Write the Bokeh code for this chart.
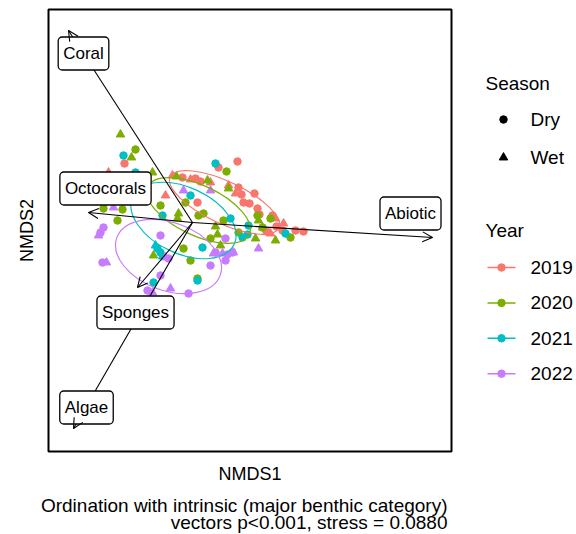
import numpy as np
from bokeh.plotting import figure
from bokeh.models import Range1d, ColumnDataSource, Arrow, OpenHead, FixedTicker
from bokeh.layouts import row, column
from bokeh.embed import file_html
from bokeh.resources import INLINE
from bokeh.core.properties import value

FONT = "Liberation Sans"

# ---------------- data ----------------
years = ["2019", "2020", "2021", "2022"]
year_colors = ["#F8766D", "#7CAE00", "#00BFC4", "#C77CFF"]
seasons = ["Dry", "Wet"]
season_markers = ["circle", "triangle"]

x_2019 = [-0.68, 0.45, 0.26, 0.46, 0.49, 0.62, 0.51, 0.57, 0.65, 0.67, 0.80, 0.90, 1.03, 1.11,
          0.05, 0.03, 0.08, -0.10, 0.74, 0.84,
          -0.84, -0.27, -0.20, -0.02, 0.18, 0.36, 0.83, 0.70, 0.91, 0.78, 0.43]
y_2019 = [0.59, 0.61, 0.55, 0.35, 0.28, 0.29, 0.20, 0.19, 0.14, 0.08, 0.07, -0.08, -0.08, -0.09,
          0.20, 0.44, 0.41, 0.45, -0.09, -0.04,
          0.50, 0.27, 0.47, 0.43, 0.40, 0.37, 0.04, -0.05, -0.01, -0.11, 0.29]
s_2019 = ["Dry"] * 20 + ["Wet"] * 11

x_2020 = [-0.57, -0.89, -0.70, -0.75, -0.07, 0.06, 0.11, 0.31, 0.34, 0.46, 0.65, 0.70, 0.78, 0.98,
          0.18, -0.09, -0.02, 0.05, -0.32,
          -0.72, -0.61, -0.40, -0.16, 0.15, 0.36, -0.14, -0.15, 0.23, 0.25, 0.28, -0.39, 0.66, 0.63, 0.83]
y_2020 = [0.73, 0.14, 0.13, 0.02, 0.20, 0.07, 0.09, 0.02, 0.51, -0.10, 0.07, -0.05, 0.04, -0.15,
          -0.16, -0.26, -0.38, -0.56, 0.17,
          0.88, 0.65, 0.50, 0.46, 0.42, 0.34, 0.09, 0.04, -0.04, -0.12, -0.23, -0.33, 0.02, -0.16, -0.18]
s_2020 = ["Dry"] * 19 + ["Wet"] * 15

x_2021 = [-0.69, -0.57, 0.23, -0.02, -0.30, 0.38, 0.56, 0.50, 0.55, 0.93, 0.10, -0.35, -0.32,
          -0.39, 0.05,
          -0.30, -0.37]
y_2021 = [0.67, 0.50, 0.59, 0.27, 0.07, 0.04, -0.03, -0.15, -0.12, -0.11, -0.25, -0.26, -0.30,
          -0.60, -0.58,
          -0.34, -0.23]
s_2021 = ["Dry"] * 15 + ["Wet"] * 2

x_2022 = [-0.89, -0.32, 0.33, 0.23, 0.35, 0.33, 0.18, -0.24, -0.32, -0.45, -0.04, 0.40, -0.92, -0.90,
          -0.79, -0.94, -0.09, 0.18, -0.86, 0.21, 0.30, 0.41, 0.66, -0.22, -0.27, -0.40]
y_2022 = [-0.05, -0.13, -0.16, -0.30, -0.32, -0.38, -0.43, -0.36, -0.53, -0.68, -0.71, -0.30, -0.10, -0.40,
          0.15, -0.13, 0.32, 0.32, -0.40, -0.31, -0.31, -0.30, -0.26, -0.66, -0.35, -0.70]
s_2022 = ["Dry"] * 14 + ["Wet"] * 12

# 95% ellipses per year (centre, full axes, rotation in radians)
ell_x = [0.32, 0.06, -0.09, -0.24]
ell_y = [0.20, 0.12, 0.02, -0.34]
ell_w = [1.20, 1.12, 1.12, 1.10]
ell_h = [0.42, 0.50, 0.66, 0.68]
ell_angle = [-0.44, -0.44, -0.44, -0.35]

# fitted vectors (arrow tips) and their label positions
vec_names = ["Abiotic", "Coral", "Octocorals", "Sponges", "Algae"]
vec_x = [2.40, -1.24, -1.04, -0.55, -1.19]
vec_y = [-0.15, 1.92, 0.10, -0.65, -2.06]
lab_x = [2.18, -1.09, -0.87, -0.57, -1.06]
lab_y = [0.09, 1.69, 0.34, -0.90, -1.85]

caption_lines = ["Ordination with intrinsic (major benthic category)",
                 "vectors p<0.001, stress = 0.0880"]

# ---------------- main panel ----------------
p = figure(frame_width=403, frame_height=442,
           min_border_left=48, min_border_right=10, min_border_top=9, min_border_bottom=34,
           x_range=Range1d(-1.44, 2.59), y_range=Range1d(-2.29, 2.13),
           output_backend="svg", toolbar_location=None,
           background_fill_color="white", border_fill_color="white",
           outline_line_color="black", outline_line_width=2)
p.grid.visible = False

for xs, ys, ss, col in zip([x_2019, x_2020, x_2021, x_2022],
                           [y_2019, y_2020, y_2021, y_2022],
                           [s_2019, s_2020, s_2021, s_2022], year_colors):
    xs = np.array(xs); ys = np.array(ys); ss = np.array(ss)
    for season, marker, size in zip(seasons, season_markers, [7.5, 8.5]):
        m = ss == season
        p.scatter(xs[m], ys[m], marker=marker, size=size, fill_color=col, line_color=col)

p.ellipse(x=ell_x, y=ell_y, width=ell_w, height=ell_h, angle=ell_angle,
          fill_color=None, line_color=year_colors, line_width=1.2)

vec_src = ColumnDataSource(dict(x1=vec_x, y1=vec_y, lx=lab_x, ly=lab_y, name=vec_names))
p.segment(x0=0, y0=0, x1="x1", y1="y1", source=vec_src, line_color="black", line_width=1.1)
p.add_layout(Arrow(end=OpenHead(size=10, line_width=1.1, line_color="black"),
                   x_start=0, y_start=0, x_end="x1", y_end="y1",
                   source=vec_src, line_alpha=0))
p.text(x="lx", y="ly", text="name", source=vec_src,
       text_align="center", text_baseline="middle",
       text_font=value(FONT), text_font_size="17px", text_color="black",
       background_fill_color="white", border_line_color="black", border_line_width=1.3,
       padding=(5, 7), border_radius=4)

for ax, lab in [(p.xaxis, "NMDS1"), (p.yaxis, "NMDS2")]:
    ax.ticker = FixedTicker(ticks=[])
    ax.axis_line_color = None
    ax.major_tick_line_color = None
    ax.minor_tick_line_color = None
    ax.major_tick_out = 0
    ax.major_label_standoff = 0
    ax.axis_label = lab
    ax.axis_label_standoff = 12
    ax.axis_label_text_font = FONT
    ax.axis_label_text_font_size = "18px"
    ax.axis_label_text_font_style = "normal"
    ax.axis_label_text_color = "black"

# ---------------- legend panel (data units = page pixels) ----------------
leg = figure(frame_width=115, frame_height=442,
             min_border_left=0, min_border_right=0, min_border_top=9, min_border_bottom=34,
             x_range=Range1d(461, 576), y_range=Range1d(451, 9),
             output_backend="svg", toolbar_location=None,
             outline_line_color=None, background_fill_color="white", border_fill_color="white")
leg.axis.visible = False
leg.grid.visible = False

txt = dict(text_font=value(FONT), text_font_size="19px", text_color="black",
           text_baseline="middle", text_align="left")
leg.text(x=[485], y=[83], text=["Season"], **txt)
season_y = [119 + 38 * i for i in range(len(seasons))]
for sy, marker, size in zip(season_y, season_markers, [7.5, 8.5]):
    leg.scatter([503], [sy], marker=marker, size=size, color="black")
leg.text(x=[530] * len(seasons), y=season_y, text=seasons, **txt)

leg.text(x=[485], y=[230], text=["Year"], **txt)
year_y = [267 + 35.4 * i for i in range(len(years))]
leg.segment(x0=487, x1=515, y0=year_y, y1=year_y, line_color=year_colors, line_width=1.5)
leg.scatter(x=[501] * len(years), y=year_y, size=7.5, color=year_colors)
leg.text(x=[530] * len(years), y=year_y, text=years, **txt)

# ---------------- caption strip (data units = page pixels) ----------------
cap = figure(frame_width=576, frame_height=49,
             min_border_left=0, min_border_right=0, min_border_top=0, min_border_bottom=0,
             x_range=Range1d(0, 576), y_range=Range1d(534, 485),
             output_backend="svg", toolbar_location=None,
             outline_line_color=None, background_fill_color="white", border_fill_color="white")
cap.axis.visible = False
cap.grid.visible = False
cap.text(x=[447] * len(caption_lines), y=[504 + 17 * i for i in range(len(caption_lines))],
         text=caption_lines, text_align="right", text_baseline="middle",
         text_font=value(FONT), text_font_size="19px", text_color="black")

layout = column(row(p, leg), cap)
open("out.html", "w").write(file_html(layout, INLINE))
